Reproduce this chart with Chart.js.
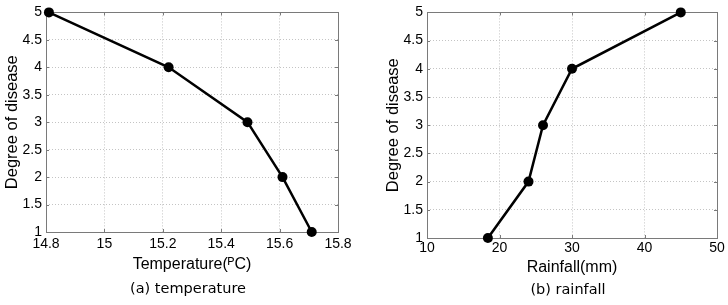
<!DOCTYPE html>
<html><head><meta charset="utf-8">
<script src="https://cdn.jsdelivr.net/npm/chart.js@4/dist/chart.umd.min.js"></script>
<style>
html,body{margin:0;padding:0;background:#fff;width:728px;height:305px;overflow:hidden;}
.wrap{position:absolute;top:0;width:364px;height:305px;}
.cap{position:absolute;font-family:"DejaVu Sans",sans-serif;font-size:14.5px;color:#000;white-space:nowrap;transform:translateX(-50%);}
</style></head><body>
<div class="wrap" style="left:0"><canvas id="c1" width="364" height="305"></canvas></div>
<div class="wrap" style="left:364px"><canvas id="c2" width="364" height="305"></canvas></div>
<div class="cap" style="left:188px;top:280px">(a) temperature</div>
<div class="cap" style="left:568px;top:281px">(b) rainfall</div>
<script>
const degree = [5, 4, 3, 2, 1];
const temperature = [14.81, 15.22, 15.49, 15.61, 15.71];
const rainfall = [45, 30, 26, 24, 18.4];
const yTicks = [1, 1.5, 2, 2.5, 3, 3.5, 4, 4.5, 5];
const tempTicks = [14.8, 15, 15.2, 15.4, 15.6, 15.8];
const rainTicks = [10, 20, 30, 40, 50];
const tempLabel = 'Temperature(\u1D3EC)';
const rainLabel = 'Rainfall(mm)';
const yLabel = 'Degree of disease';

const boxPlugin = {
  id: 'box',
  beforeDatasetsDraw(chart) {
    const a = chart.chartArea, ctx = chart.ctx;
    ctx.save();
    ctx.strokeStyle = '#7a7a7a';
    ctx.lineWidth = 1;
    ctx.strokeRect(Math.round(a.left) + 0.5, Math.round(a.top) + 0.5, Math.round(a.right - a.left), Math.round(a.bottom - a.top));
    const xs = chart.scales.x, ys = chart.scales.y;
    ctx.beginPath();
    xs.ticks.forEach(t => { const px = Math.round(xs.getPixelForValue(t.value)) + 0.5;
      ctx.moveTo(px, a.bottom); ctx.lineTo(px, a.bottom - 3); ctx.moveTo(px, a.top); ctx.lineTo(px, a.top + 3); });
    ys.ticks.forEach(t => { const py = Math.round(ys.getPixelForValue(t.value)) + 0.5;
      ctx.moveTo(a.left, py); ctx.lineTo(a.left + 3, py); ctx.moveTo(a.right, py); ctx.lineTo(a.right - 3, py); });
    ctx.stroke();
    ctx.restore();
  }
};

function makeChart(id, xs, xTicks, xLabel, cfg) {
  const pts = xs.map((x, i) => ({x: x, y: degree[i]}));
  return new Chart(document.getElementById(id), {
    type: 'line',
    data: { datasets: [{ data: pts, borderColor: '#000', backgroundColor: '#000', borderWidth: 2.5,
      pointRadius: 5, pointHoverRadius: 5, pointBorderWidth: 0, tension: 0, clip: false }] },
    options: {
      responsive: false, animation: false, devicePixelRatio: 1,
      layout: { padding: { top: 11, right: cfg.padRight, bottom: cfg.padBottom, left: 0 } },
      plugins: { legend: { display: false }, tooltip: { enabled: false } },
      scales: {
        x: { type: 'linear', min: xTicks[0], max: xTicks[xTicks.length - 1],
          afterBuildTicks: s => { s.ticks = xTicks.map(v => ({value: v})); },
          afterFit: s => { s.height = 45; },
          grid: { color: '#c4c4c4', drawTicks: false, lineWidth: 1 },
          border: { display: false, dash: [1, 2] },
          ticks: { color: '#000', padding: cfg.xTickPad, maxRotation: 0, font: { family: 'Liberation Sans', size: 14 },
            callback: v => String(Math.round(v * 10) / 10) },
          title: { display: true, text: xLabel, color: '#000', font: { family: 'Liberation Sans', size: 16 },
            padding: { top: 0, bottom: cfg.xTitlePad } } },
        y: { type: 'linear', min: 1, max: 5,
          afterBuildTicks: s => { s.ticks = yTicks.map(v => ({value: v})); },
          afterFit: s => { s.width = cfg.yWidth; },
          grid: { color: '#c4c4c4', drawTicks: false, lineWidth: 1 },
          border: { display: false, dash: [1, 2] },
          ticks: { color: '#000', padding: 4, font: { family: 'Liberation Sans', size: 14 },
            callback: v => String(v) },
          title: { display: true, text: yLabel, color: '#000', font: { family: 'Liberation Sans', size: 16.5 },
            padding: { top: cfg.yTitlePad, bottom: 0 } } }
      }
    },
    plugins: [boxPlugin]
  });
}

makeChart('c1', temperature, tempTicks, tempLabel, { padRight: 26, padBottom: 28, yWidth: 46, xTickPad: 4, xTitlePad: 3, yTitlePad: 3 });
makeChart('c2', rainfall, rainTicks, rainLabel, { padRight: 11, padBottom: 22, yWidth: 63, xTickPad: 2, xTitlePad: 6, yTitlePad: 20 });
</script>
</body></html>
